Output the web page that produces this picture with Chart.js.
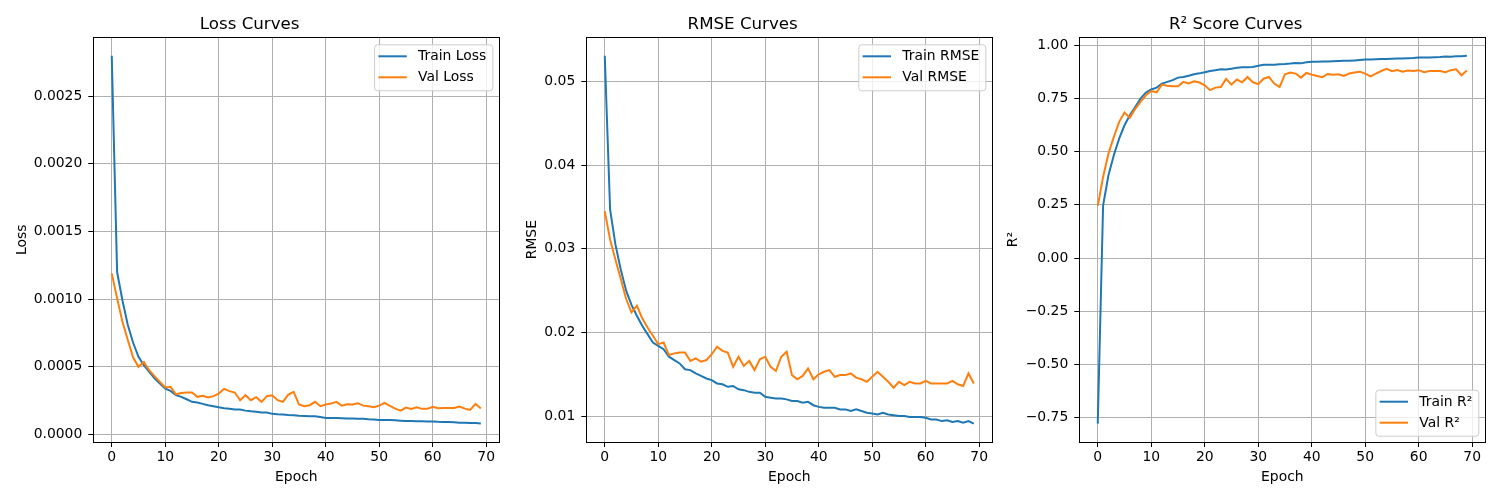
<!DOCTYPE html>
<html>
<head>
<meta charset="utf-8">
<script src="https://cdn.jsdelivr.net/npm/chart.js@4.4.1/dist/chart.umd.min.js"></script>
<style>
  body { margin: 0; background: #fff; width: 1500px; height: 500px; overflow: hidden; position: relative; }
  canvas { position: absolute; top: 0; }
</style>
</head>
<body>
<canvas id="loss" width="500" height="500" style="left:0px"></canvas>
<canvas id="rmse" width="500" height="500" style="left:493px"></canvas>
<canvas id="r2" width="500" height="500" style="left:986px"></canvas>
<script>
const epochs = Array.from({length: 70}, (_, i) => i);

const trainLoss = [0.00280, 0.00120, 0.000990, 0.000808, 0.000677, 0.000573, 0.000511, 0.000462, 0.000413, 0.000375,
  0.000338, 0.000321, 0.000289, 0.000277, 0.000259, 0.000240, 0.000235, 0.000225, 0.000215, 0.000208,
  0.000200, 0.000193, 0.000188, 0.000183, 0.000183, 0.000175, 0.000170, 0.000166, 0.000161, 0.000161,
  0.000151, 0.000148, 0.000146, 0.000143, 0.000141, 0.000138, 0.000136, 0.000133, 0.000133, 0.000128,
  0.000121, 0.000120, 0.000120, 0.000119, 0.000117, 0.000116, 0.000114, 0.000114, 0.000111, 0.000109,
  0.000106, 0.000105, 0.000105, 0.000103, 0.000101, 0.000099, 0.000098, 0.000097, 0.000096, 0.000095,
  0.000094, 0.000092, 0.000091, 0.000090, 0.000089, 0.000086, 0.000086, 0.000084, 0.000083, 0.000079];
const valLoss = [0.00119, 0.001005, 0.000833, 0.000697, 0.000568, 0.000499, 0.000534, 0.000474, 0.000430, 0.000388,
  0.000346, 0.000351, 0.000296, 0.000306, 0.000309, 0.000309, 0.000277, 0.000284, 0.000272, 0.000282,
  0.000301, 0.000336, 0.000319, 0.000309, 0.000252, 0.000289, 0.000252, 0.000274, 0.000240, 0.000282,
  0.000289, 0.000252, 0.000240, 0.000294, 0.000314, 0.000220, 0.000208, 0.000215, 0.000240, 0.000208,
  0.000220, 0.000227, 0.000240, 0.000212, 0.000222, 0.000220, 0.000230, 0.000212, 0.000208, 0.000200,
  0.000212, 0.000232, 0.000210, 0.000190, 0.000175, 0.000198, 0.000188, 0.000200, 0.000188, 0.000188,
  0.000203, 0.000193, 0.000195, 0.000195, 0.000195, 0.000205, 0.000190, 0.000180, 0.000225, 0.000190];

const trainRmse = [0.0531, 0.0347, 0.0305, 0.0275, 0.0250, 0.0233, 0.0220, 0.0208, 0.0198, 0.0188,
  0.0184, 0.0180, 0.0171, 0.0167, 0.0163, 0.0156, 0.0155, 0.0151, 0.0148, 0.0145,
  0.0143, 0.0139, 0.0138, 0.0135, 0.0136, 0.0132, 0.0131, 0.0129, 0.0128, 0.0128,
  0.0123, 0.0122, 0.0121, 0.0121, 0.0120, 0.0118, 0.0118, 0.0116, 0.0117, 0.0113,
  0.0111, 0.0110, 0.0110, 0.0110, 0.0108, 0.0108, 0.0106, 0.0108, 0.0106, 0.0104,
  0.0103, 0.0102, 0.0104, 0.0102, 0.0101, 0.0100, 0.0100, 0.0099, 0.0099, 0.0099,
  0.0098, 0.0096, 0.0096, 0.0094, 0.0095, 0.0093, 0.0094, 0.0092, 0.0094, 0.0091];
const valRmse = [0.0345, 0.0311, 0.0287, 0.0264, 0.0240, 0.0224, 0.0232, 0.0217, 0.0206, 0.0196,
  0.0186, 0.0188, 0.0173, 0.0175, 0.0176, 0.0176, 0.0166, 0.0169, 0.0165, 0.0167,
  0.0174, 0.0183, 0.0178, 0.0176, 0.0159, 0.0171, 0.0160, 0.0166, 0.0155, 0.0168,
  0.0171, 0.0159, 0.0154, 0.0171, 0.0177, 0.0149, 0.0144, 0.0148, 0.0157, 0.0144,
  0.0150, 0.0153, 0.0155, 0.0147, 0.0149, 0.0149, 0.0151, 0.0146, 0.0144, 0.0141,
  0.0147, 0.0153, 0.0147, 0.0141, 0.0134, 0.0141, 0.0137, 0.0141, 0.0139, 0.0139,
  0.0142, 0.0139, 0.0139, 0.0139, 0.0139, 0.0142, 0.0138, 0.0136, 0.0151, 0.0139];

const trainR2 = [-0.778, 0.248, 0.389, 0.483, 0.561, 0.624, 0.671, 0.710, 0.749, 0.778,
  0.792, 0.801, 0.820, 0.828, 0.836, 0.848, 0.851, 0.857, 0.864, 0.868,
  0.873, 0.879, 0.883, 0.887, 0.886, 0.890, 0.894, 0.897, 0.897, 0.898,
  0.904, 0.908, 0.909, 0.909, 0.911, 0.912, 0.914, 0.917, 0.915, 0.920,
  0.923, 0.923, 0.924, 0.924, 0.925, 0.926, 0.927, 0.927, 0.929, 0.931,
  0.933, 0.933, 0.934, 0.935, 0.936, 0.937, 0.938, 0.938, 0.939, 0.940,
  0.942, 0.942, 0.943, 0.944, 0.945, 0.947, 0.946, 0.948, 0.948, 0.951];
const valR2 = [0.245, 0.381, 0.491, 0.569, 0.640, 0.684, 0.660, 0.701, 0.734, 0.765,
  0.785, 0.779, 0.815, 0.810, 0.807, 0.807, 0.828, 0.821, 0.831, 0.825,
  0.812, 0.789, 0.801, 0.804, 0.842, 0.815, 0.839, 0.826, 0.851, 0.826,
  0.817, 0.843, 0.851, 0.820, 0.804, 0.864, 0.872, 0.867, 0.848, 0.870,
  0.862, 0.856, 0.850, 0.865, 0.862, 0.864, 0.856, 0.867, 0.872, 0.876,
  0.867, 0.854, 0.867, 0.879, 0.889, 0.878, 0.884, 0.876, 0.881, 0.879,
  0.883, 0.873, 0.879, 0.879, 0.879, 0.873, 0.883, 0.887, 0.859, 0.881];

const epochTicks = [0, 10, 20, 30, 40, 50, 60, 70];
const lossTicks = [0, 0.0005, 0.0010, 0.0015, 0.0020, 0.0025];
const rmseTicks = [0.01, 0.02, 0.03, 0.04, 0.05];
const r2Ticks = [-0.75, -0.50, -0.25, 0, 0.25, 0.50, 0.75, 1.00];

const BLUE = '#1f77b4';
const ORANGE = '#ff7f0e';
const FONT = 'DejaVu Sans';

Chart.defaults.font.family = FONT;
Chart.defaults.color = '#000';

// black box round the plot, like matplotlib spines
const frame = {
  id: 'frame',
  afterDatasetsDraw(chart) {
    const a = chart.chartArea, c = chart.ctx;
    c.save();
    c.strokeStyle = '#000';
    c.lineWidth = 1;
    c.strokeRect(Math.floor(a.left) + 0.5, Math.floor(a.top) + 0.5,
      Math.round(a.right - a.left), Math.round(a.bottom - a.top));
    c.restore();
  }
};

// legend box drawn inside the plot area
const boxLegend = {
  id: 'boxLegend',
  afterDraw(chart, args, opts) {
    const ctx = chart.ctx, a = chart.chartArea;
    const sets = chart.data.datasets;
    ctx.save();
    ctx.font = '13.9px "' + FONT + '"';
    const textW = Math.max(...sets.map(d => ctx.measureText(d.label).width));
    const w = textW + 50, h = 46;
    const x = a.right - 7 - w;
    const y = opts.loc === 'lower' ? a.bottom - 6.3 - h : a.top + 7;
    ctx.beginPath();
    ctx.roundRect(x + 0.5, y + 0.5, w, h, 3);
    ctx.fillStyle = 'rgba(255,255,255,0.8)';
    ctx.fill();
    ctx.strokeStyle = '#cccccc';
    ctx.lineWidth = 1;
    ctx.stroke();
    sets.forEach((d, i) => {
      const ry = y + 12 + i * 21;
      ctx.strokeStyle = d.borderColor;
      ctx.lineWidth = 2;
      ctx.beginPath();
      ctx.moveTo(x + 4.3, ry);
      ctx.lineTo(x + 32.7, ry);
      ctx.stroke();
      ctx.fillStyle = '#000';
      ctx.textBaseline = 'middle';
      ctx.textAlign = 'left';
      ctx.fillText(d.label, x + 44, ry + 0.5);
    });
    ctx.restore();
  }
};

function fmt(v, digits) {
  return v.toFixed(digits).replace('-', '\u2212');
}

function lineChart(id, title, yLabel, yTitleX, yTicks, digits, train, val, names, loc) {
  const all = train.concat(val);
  const lo = Math.min(...all), hi = Math.max(...all);
  const pad = (hi - lo) * 0.05;
  return new Chart(document.getElementById(id), {
    type: 'line',
    data: {
      datasets: [
        {
          label: names[0],
          data: train.map((v, i) => ({x: epochs[i], y: v})),
          borderColor: BLUE, backgroundColor: BLUE,
          borderWidth: 2, pointRadius: 0, tension: 0, order: 1
        },
        {
          label: names[1],
          data: val.map((v, i) => ({x: epochs[i], y: v})),
          borderColor: ORANGE, backgroundColor: ORANGE,
          borderWidth: 2, pointRadius: 0, tension: 0, order: 0
        }
      ]
    },
    options: {
      responsive: false,
      animation: false,
      events: [],
      layout: {padding: {left: 0, right: 0.7, top: 0, bottom: 0}},
      plugins: {
        legend: {display: false},
        tooltip: {enabled: false},
        title: {
          display: true,
          text: title,
          font: {size: 16.67, weight: 'normal'},
          padding: {top: 14.5, bottom: 2.8}
        },
        boxLegend: {loc: loc}
      },
      scales: {
        x: {
          type: 'linear',
          min: -3.45,
          max: 72.45,
          afterBuildTicks: s => { s.ticks = epochTicks.map(v => ({value: v})); },
          afterFit: s => { s.height = 58; },
          ticks: {font: {size: 13.9}, padding: 2, maxRotation: 0, callback: v => String(v)},
          grid: {color: '#b0b0b0', lineWidth: 1, tickColor: '#000', tickLength: 5, tickWidth: 1},
          border: {display: false},
          title: {display: true, text: 'Epoch', font: {size: 13.9}, padding: {top: 0, bottom: 14.7}}
        },
        y: {
          type: 'linear',
          min: lo - pad,
          max: hi + pad,
          afterBuildTicks: s => { s.ticks = yTicks.map(v => ({value: v})); },
          afterFit: s => { s.width = 93.3; },
          ticks: {font: {size: 13.9}, padding: 6, callback: v => fmt(v, digits)},
          grid: {color: '#b0b0b0', lineWidth: 1, tickColor: '#000', tickLength: 5, tickWidth: 1},
          border: {display: false},
          title: {display: true, text: yLabel, font: {size: 13.9}, padding: {top: yTitleX - 8.33, bottom: 0}}
        }
      }
    },
    plugins: [frame, boxLegend]
  });
}

lineChart('loss', 'Loss Curves', 'Loss', 22, lossTicks, 4, trainLoss, valLoss, ['Train Loss', 'Val Loss'], 'upper');
lineChart('rmse', 'RMSE Curves', 'RMSE', 39, rmseTicks, 2, trainRmse, valRmse, ['Train RMSE', 'Val RMSE'], 'upper');
lineChart('r2', 'R\u00b2 Score Curves', 'R\u00b2', 27.5, r2Ticks, 2, trainR2, valR2, ['Train R\u00b2', 'Val R\u00b2'], 'lower');
</script>
</body>
</html>
